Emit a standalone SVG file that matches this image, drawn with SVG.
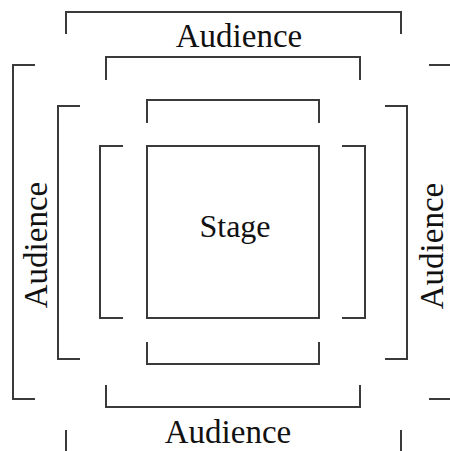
<svg xmlns="http://www.w3.org/2000/svg" width="450" height="451" viewBox="0 0 450 451">
<style>
.b{fill:none;stroke:#3a3a3a;stroke-width:2}
.t{font-family:"Liberation Serif","Times New Roman",serif;font-size:32px;fill:#111;text-anchor:middle}
.a{font-size:33px}
</style>
<rect width="450" height="451" fill="#fff"/>
<g id="stage">
<rect class="b" x="147" y="146" width="172" height="172"/>
<text class="t" x="235" y="237">Stage</text>
</g>
<g id="brackets">
<path class="b" d="M66 34V12H401V34"/>
<path class="b" d="M106 80V57H360V80"/>
<path class="b" d="M147 123V100H319V123"/>
<path class="b" d="M147 342V364H319V342"/>
<path class="b" d="M106 385V407H360V385"/>
<path class="b" d="M66 430V451M401 430V451"/>
<path class="b" d="M123 146H100V318H123"/>
<path class="b" d="M80 106H58V359H80"/>
<path class="b" d="M35 65H13V399H35"/>
<path class="b" d="M342 146H365V318H342"/>
<path class="b" d="M385 106H407V359H385"/>
<path class="b" d="M429 65H451M429 399H451"/>
</g>
<g id="audience-top"><text class="t a" x="239" y="47">Audience</text></g>
<g id="audience-bottom"><text class="t a" x="228" y="443">Audience</text></g>
<g id="audience-left"><text class="t a" transform="translate(47 245) rotate(-90)">Audience</text></g>
<g id="audience-right"><text class="t a" transform="translate(443 246) rotate(-90)">Audience</text></g>
</svg>
